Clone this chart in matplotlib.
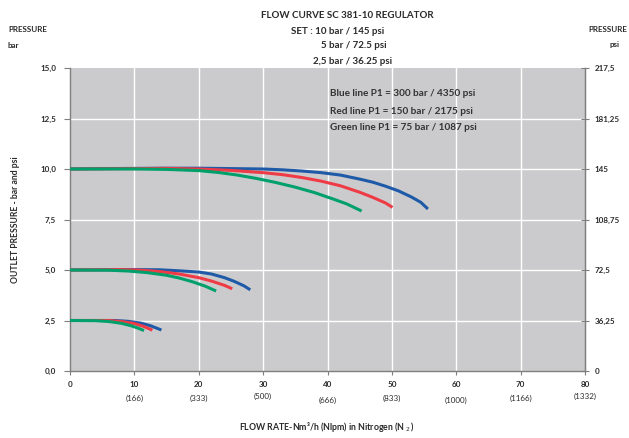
import matplotlib
matplotlib.use("Agg")
import matplotlib.pyplot as plt

plt.rcParams['font.family'] = ['Lato', 'DejaVu Sans']

# ---- data ----
x_ticks = [0, 10, 20, 30, 40, 50, 60, 70, 80]
x_nlpm = ["(166)", "(333)", "(500)", "(666)", "(833)", "(1000)", "(1166)", "(1332)"]
y_ticks = [0.0, 2.5, 5.0, 7.5, 10.0, 12.5, 15.0]
y_tick_labels = ["0,0", "2,5", "5,0", "7,5", "10,0", "12,5", "15,0"]
psi_labels = ["0", "36,25", "72,5", "108,75", "145", "181,25", "217,5"]

# 10 bar set
blue10_x = [0, 5, 10, 15, 20, 25, 30, 33, 36, 39, 42, 45, 47, 49, 51, 53, 54.5, 55.6]
blue10_y = [10.0, 10.02, 10.03, 10.04, 10.04, 10.02, 10.0, 9.96, 9.9, 9.82, 9.7,
            9.5, 9.35, 9.15, 8.92, 8.62, 8.35, 8.02]
red10_x = [0, 10, 15, 20, 25, 30, 33, 36, 39, 42, 45, 47, 49, 50.1]
red10_y = [10.0, 10.02, 10.03, 10.0, 9.93, 9.82, 9.72, 9.58, 9.4, 9.17, 8.85, 8.6,
           8.32, 8.1]
green10_x = [0, 10, 15, 20, 23, 26, 29, 32, 35, 38, 41, 43, 45.3]
green10_y = [10.0, 10.0, 9.98, 9.92, 9.83, 9.7, 9.53, 9.33, 9.1, 8.83, 8.5, 8.27, 7.92]

# 5 bar set
blue5_x = [0, 10, 14, 17, 20, 22, 24, 25.5, 27, 28]
blue5_y = [5.0, 5.02, 5.01, 4.96, 4.9, 4.8, 4.62, 4.44, 4.22, 4.02]
red5_x = [0, 8, 11, 14, 17, 20, 22, 24, 25.2]
red5_y = [5.0, 5.02, 4.99, 4.92, 4.8, 4.62, 4.45, 4.24, 4.07]
green5_x = [0, 6, 9, 12, 15, 17, 19, 21, 22.7]
green5_y = [5.0, 4.99, 4.95, 4.87, 4.74, 4.6, 4.42, 4.2, 3.96]

# 2.5 bar set
blue25_x = [0, 7, 9, 11, 12.5, 14.2]
blue25_y = [2.5, 2.5, 2.46, 2.37, 2.24, 2.03]
red25_x = [0, 6, 8, 10, 11.5, 12.8]
red25_y = [2.5, 2.5, 2.45, 2.35, 2.2, 2.02]
green25_x = [0, 4, 6, 8, 9.5, 10.5, 11.5]
green25_y = [2.5, 2.49, 2.45, 2.36, 2.24, 2.13, 2.0]

BLUE = "#1f5aa8"
RED = "#ee3b46"
GREEN = "#00a06b"

fig = plt.figure(figsize=(6.29, 4.38), dpi=100)
ax = fig.add_axes([70/629, 1-371/438, (585-70)/629, (371-68)/438])
ax.set_facecolor("#cbcbcd")
ax.set_xlim(0, 80)
ax.set_ylim(0, 15)

for v in x_ticks[1:-1]:
    ax.axvline(v, color="white", lw=1.0, zorder=1)
for v in y_ticks[1:-1]:
    ax.axhline(v, color="white", lw=1.0, zorder=1)

lw = 2.2
for xs, ys, c in [
    (blue10_x, blue10_y, BLUE), (red10_x, red10_y, RED), (green10_x, green10_y, GREEN),
    (blue5_x, blue5_y, BLUE), (red5_x, red5_y, RED), (green5_x, green5_y, GREEN),
    (blue25_x, blue25_y, BLUE), (red25_x, red25_y, RED), (green25_x, green25_y, GREEN),
]:
    ax.plot(xs, ys, color=c, lw=lw, solid_capstyle="butt", solid_joinstyle="round",
            zorder=3)

ax.spines["top"].set_visible(False)
for s in ["left", "right", "bottom"]:
    ax.spines[s].set_color("#7f7f7f")
    ax.spines[s].set_linewidth(1.0)

tcol = "#2a2a2a"
ax.set_xticks(x_ticks)
ax.set_xticklabels([str(v) for v in x_ticks], fontsize=5.8, fontweight="bold", color=tcol)
ax.set_yticks(y_ticks)
ax.set_yticklabels(y_tick_labels, fontsize=5.8, fontweight="bold", color=tcol)
ax.tick_params(axis="x", direction="out", length=3, color="#7f7f7f", pad=4)
ax.tick_params(axis="y", direction="out", length=4, color="#7f7f7f", pad=6)

ax2 = ax.twinx()
ax2.set_ylim(0, 15)
ax2.set_yticks(y_ticks)
ax2.set_yticklabels(psi_labels, fontsize=5.8, fontweight="bold", color=tcol)
ax2.tick_params(axis="y", direction="inout", length=6, color="#7f7f7f", pad=4)
for s in ["top", "left", "bottom"]:
    ax2.spines[s].set_visible(False)
ax2.spines["right"].set_color("#7f7f7f")

# secondary flow labels (Nlpm)
offs = [0, 0, 1.5, -1.5, 0, -1.5, 0, 1.5]
for v, lab, o in zip(x_ticks[1:], x_nlpm, offs):
    ax.annotate(lab, xy=(v, 0), xycoords="data", xytext=(0, -19.5 + o),
                textcoords="offset points", ha="center", va="center",
                fontsize=5.8, color=tcol)

ax.set_ylabel("OUTLET PRESSURE - bar and psi", fontsize=6.2, fontweight="bold",
              color=tcol)
ax.yaxis.set_label_coords(-0.097, 0.5)

fig.text(327/629, 1-427/438, "FLOW RATE-Nm³/h (Nlpm) in Nitrogen (N $_2$)", ha="center",
         va="center", fontsize=6.3, fontweight="bold", color=tcol)

# titles
fig.text(347/629, 1-15/438, "FLOW CURVE SC 381-10 REGULATOR", ha="center", va="center",
         fontsize=7, fontweight="bold", color=tcol)
fig.text(338/629, 1-31/438, "SET : 10 bar / 145 psi", ha="center", va="center",
         fontsize=7, fontweight="bold", color=tcol)
fig.text(354/629, 1-46/438, "5 bar / 72.5 psi", ha="center", va="center",
         fontsize=7, fontweight="bold", color=tcol)
fig.text(353/629, 1-61/438, "2,5 bar / 36.25 psi", ha="center", va="center",
         fontsize=7, fontweight="bold", color=tcol)

fig.text(8/629, 1-30/438, "PRESSURE", ha="left", va="center", fontsize=5.8,
         fontweight="bold", color=tcol)
fig.text(8/629, 1-45/438, "bar", ha="left", va="center", fontsize=5.8,
         fontweight="bold", color=tcol)
fig.text(627/629, 1-30/438, "PRESSURE", ha="right", va="center", fontsize=5.8,
         fontweight="bold", color=tcol)
fig.text(620/629, 1-45/438, "psi", ha="right", va="center", fontsize=5.8,
         fontweight="bold", color=tcol)

# legend text
leg = ["Blue line P1 = 300 bar / 4350 psi",
       "Red line P1 = 150 bar / 2175 psi",
       "Green line P1 = 75 bar / 1087 psi"]
for i, t in enumerate(leg):
    fig.text(330/629, 1-(94 + 17*i)/438, t, ha="left", va="center", fontsize=7.2,
             fontweight="bold", color="#333333")

fig.savefig("out.png", dpi=100)
